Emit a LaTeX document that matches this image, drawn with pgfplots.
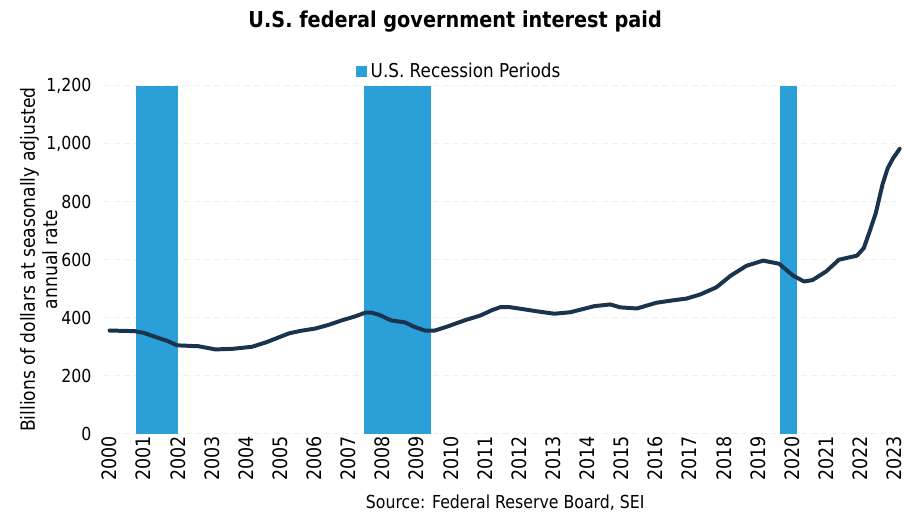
\documentclass[border=0pt]{standalone}
\usepackage{fontspec}
\setmainfont{DejaVu Sans}[FakeStretch=0.88]
\usepackage{pgfplots}
\pgfplotsset{compat=1.18}
\definecolor{recblue}{RGB}{43,160,216}
\definecolor{navy}{RGB}{26,52,78}
\begin{document}
\begin{tikzpicture}
\begin{axis}[
  scale only axis,
  width=399.5pt, height=175pt,
  xmin=1999.85, xmax=2023.15,
  ymin=0, ymax=1200,
  axis line style={draw=none},
  tick style={draw=none},
  xtick={2000,2001,...,2023},
  ytick={0,200,...,1200},
  /pgf/number format/assume math mode=true,
  /pgf/number format/1000 sep={,},
  x tick label style={rotate=90, anchor=east, font=\fontsize{10}{11}\selectfont, /pgf/number format/1000 sep={}, inner sep=1pt},
  y tick label style={font=\fontsize{9}{11}\selectfont, xshift=-3pt},
  ymajorgrids,
  grid style={gray!12, densely dashed, line width=0.4pt},
  ylabel={Billions of dollars at seasonally adjusted\\annual rate},
  ylabel style={at={(axis description cs:-0.0826,0.5)}, anchor=center, align=center, font=\fontsize{9.8}{11.2}\selectfont},
  xlabel={Source: Federal Reserve Board, SEI},
  xlabel style={at={(axis description cs:0.504,-0.197)}, anchor=center, font=\fontsize{9}{10}\selectfont},
  legend style={at={(rel axis cs:0.447,1.04)}, anchor=center, draw=none, fill=none, font=\fontsize{9.6}{11}\selectfont, inner sep=0pt},
  legend image code/.code={\fill[recblue] (0pt,-2.8pt) rectangle (5.6pt,2.8pt);},
  clip=false,
]
\addplot[fill=recblue, draw=none] coordinates {(2000.76,0)(2000.76,1200)(2002.01,1200)(2002.01,0)} -- cycle;
\addlegendentry{U.S. Recession Periods}
\addplot[fill=recblue, draw=none, forget plot] coordinates {(2007.46,0)(2007.46,1200)(2009.42,1200)(2009.42,0)} -- cycle;
\addplot[fill=recblue, draw=none, forget plot] coordinates {(2019.65,0)(2019.65,1200)(2020.15,1200)(2020.15,0)} -- cycle;
\addplot[navy, line width=2pt, line join=round, line cap=round, forget plot] coordinates {
(2000.0,356)(2000.73,354)(2001.0,348)(2001.37,333)(2001.7,320)(2001.98,305)(2002.6,302)(2003.1,291)(2003.6,293)(2004.17,300)(2004.6,316)(2005.25,346)(2005.6,355)(2006.03,363)(2006.4,375)(2006.8,391)(2007.2,405)(2007.5,418)(2007.67,418)(2007.9,410)(2008.25,391)(2008.66,384)(2008.9,370)(2009.24,356)(2009.53,356)(2009.9,370)(2010.4,391)(2010.87,408)(2011.2,426)(2011.46,437)(2011.7,437)(2012.1,430)(2012.54,422)(2013.03,414)(2013.5,419)(2014.2,440)(2014.67,446)(2014.96,436)(2015.45,432)(2016.03,452)(2016.5,460)(2016.9,466)(2017.3,480)(2017.78,505)(2018.2,545)(2018.66,579)(2019.15,597)(2019.62,586)(2020.03,545)(2020.35,525)(2020.6,530)(2021.0,560)(2021.37,600)(2021.9,614)(2022.1,640)(2022.25,690)(2022.45,760)(2022.65,860)(2022.8,915)(2022.95,948)(2023.15,982)
};
\node[font=\bfseries\fontsize{11}{13}\selectfont, anchor=center] at (rel axis cs:0.441,1.183) {U.S. federal government interest paid};
\coordinate (bl) at (rel axis cs:0,0);
\coordinate (tl) at (rel axis cs:0,1);
\end{axis}
\path ([xshift=-52.5pt,yshift=-40pt]bl);
\path ([xshift=-52.5pt,yshift=43pt]tl);
\end{tikzpicture}
\end{document}
